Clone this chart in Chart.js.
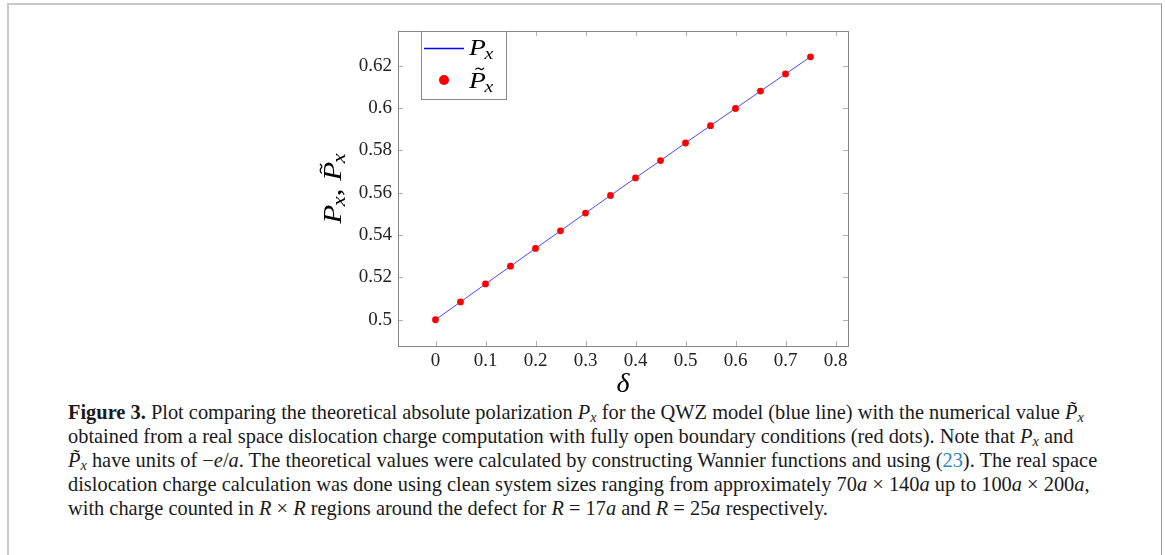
<!DOCTYPE html>
<html>
<head>
<meta charset="utf-8">
<script src="https://cdn.jsdelivr.net/npm/chart.js@4"></script>
<style>
  html, body { margin: 0; padding: 0; background: #fff; }
  body { width: 1165px; height: 555px; position: relative; overflow: hidden; }
  #frame { position: absolute; left: 7px; top: 3px; width: 1152px; height: 600px;
           border-left: 2px solid #c8c8c8; border-top: 2px solid #c8c8c8; border-right: 1px solid #9a9a9a; }
  #wrap { position: absolute; left: 0; top: 0; width: 1165px; height: 395px; }
  #cap { position: absolute; left: 68px; top: 400px; font-family: "Liberation Serif", serif; font-size: 20.4px;
         color: #1a1a1a; line-height: 24px; }
  #cap div { white-space: nowrap; height: 24px; }
  #cap i { font-style: italic; }
  #cap sub { font-size: 70%; vertical-align: -3px; line-height: 0; }
  #cap .ref { color: #2a88c4; }
</style>
</head>
<body>
<div id="frame"></div>
<div id="wrap"><canvas id="c" width="1165" height="395"></canvas></div>
<div id="cap">
  <div><b>Figure 3.</b> Plot comparing the theoretical absolute polarization <i>P<sub>x</sub></i> for the QWZ model (blue line) with the numerical value <i>P&#771;<sub>x</sub></i></div>
  <div>obtained from a real space dislocation charge computation with fully open boundary conditions (red dots). Note that <i>P<sub>x</sub></i> and</div>
  <div><i>P&#771;<sub>x</sub></i> have units of &minus;<i>e</i>/<i>a</i>. The theoretical values were calculated by constructing Wannier functions and using (<span class="ref">23</span>). The real space</div>
  <div>dislocation charge calculation was done using clean system sizes ranging from approximately 70<i>a</i> &times; 140<i>a</i> up to 100<i>a</i> &times; 200<i>a</i>,</div>
  <div>with charge counted in <i>R</i> &times; <i>R</i> regions around the defect for <i>R</i> = 17<i>a</i> and <i>R</i> = 25<i>a</i> respectively.</div>
</div>
<script>
// ---- data ----
const deltaValues = [0, 0.05, 0.1, 0.15, 0.2, 0.25, 0.3, 0.35, 0.4, 0.45, 0.5, 0.55, 0.6, 0.65, 0.7, 0.75];
const theoreticalPx = [0.5, 0.5084, 0.5169, 0.5253, 0.5337, 0.5420, 0.5504, 0.5587, 0.5670, 0.5752, 0.5835, 0.5917, 0.5998, 0.6080, 0.6161, 0.6242];
const numericalPx = [0.5, 0.5084, 0.5169, 0.5253, 0.5337, 0.5420, 0.5504, 0.5587, 0.5670, 0.5752, 0.5835, 0.5917, 0.5998, 0.6080, 0.6161, 0.6242];
const xTickValues = [0, 0.1, 0.2, 0.3, 0.4, 0.5, 0.6, 0.7, 0.8];
const xTickLabels = ["0", "0.1", "0.2", "0.3", "0.4", "0.5", "0.6", "0.7", "0.8"];
const yTickValues = [0.5, 0.52, 0.54, 0.56, 0.58, 0.6, 0.62];
const yTickLabels = ["0.5", "0.52", "0.54", "0.56", "0.58", "0.6", "0.62"];

const SERIF = '"Liberation Serif", serif';

function mathP(ctx, x, y, size, tilde, measureOnly) {
  // draws italic P with subscript x; returns width
  ctx.font = 'italic ' + size + 'px ' + SERIF;
  const wP = ctx.measureText('P').width;
  ctx.font = 'italic ' + (size * 0.72) + 'px ' + SERIF;
  const wx = ctx.measureText('x').width;
  if (!measureOnly) {
    ctx.font = 'italic ' + size + 'px ' + SERIF;
    ctx.fillText('P', x, y);
    if (tilde) {
      const tx0 = x + wP * 0.38, tx1 = x + wP * 0.88, ty = y - size * 0.8, amp = size * 0.05;
      ctx.save();
      ctx.strokeStyle = ctx.fillStyle;
      ctx.lineWidth = Math.max(1, size * 0.05);
      ctx.beginPath();
      ctx.moveTo(tx0, ty + amp * 0.6);
      ctx.bezierCurveTo(tx0 + (tx1 - tx0) * 0.25, ty - amp * 1.6, tx0 + (tx1 - tx0) * 0.5, ty - amp * 0.2, tx0 + (tx1 - tx0) * 0.55, ty);
      ctx.bezierCurveTo(tx0 + (tx1 - tx0) * 0.7, ty + amp * 1.6, tx0 + (tx1 - tx0) * 0.85, ty + amp * 0.2, tx1, ty - amp * 0.8);
      ctx.stroke();
      ctx.restore();
    }
    ctx.font = 'italic ' + (size * 0.72) + 'px ' + SERIF;
    ctx.fillText('x', x + wP * 0.92, y + size * 0.17);
  }
  return wP * 0.92 + wx;
}

const decor = {
  id: 'decor',
  afterDraw(chart) {
    const ctx = chart.ctx;
    const a = chart.chartArea;
    const xs = chart.scales.x, ys = chart.scales.y;
    ctx.save();
    // inside ticks
    ctx.strokeStyle = '#b0b0b0';
    ctx.lineWidth = 1;
    ctx.beginPath();
    xTickValues.forEach(v => {
      const px = Math.round(xs.getPixelForValue(v)) + 0.5;
      ctx.moveTo(px, a.bottom); ctx.lineTo(px, a.bottom - 5);
      ctx.moveTo(px, a.top); ctx.lineTo(px, a.top + 5);
    });
    yTickValues.forEach(v => {
      const py = Math.round(ys.getPixelForValue(v)) + 0.5;
      ctx.moveTo(a.left, py); ctx.lineTo(a.left + 5, py);
      ctx.moveTo(a.right, py); ctx.lineTo(a.right - 5, py);
    });
    ctx.stroke();
    // frame
    ctx.strokeStyle = '#858585';
    ctx.strokeRect(Math.round(a.left) + 0.5, Math.round(a.top) + 0.5, Math.round(a.right - a.left), Math.round(a.bottom - a.top));

    // legend
    const lx = 421, ly = 31, lw = 85, lh = 68;
    ctx.fillStyle = '#fff';
    ctx.fillRect(lx, ly, lw, lh);
    ctx.strokeStyle = '#8a8a8a';
    ctx.strokeRect(lx + 0.5, ly + 0.5, lw, lh);
    ctx.strokeStyle = '#0000ff';
    ctx.lineWidth = 1.3;
    ctx.beginPath(); ctx.moveTo(424, 48.5); ctx.lineTo(464, 48.5); ctx.stroke();
    ctx.fillStyle = chart.data.datasets[0].backgroundColor;
    ctx.beginPath(); ctx.arc(444, 80, 5, 0, Math.PI * 2); ctx.fill();
    ctx.fillStyle = '#000';
    ctx.textAlign = 'left'; ctx.textBaseline = 'alphabetic';
    ctx.save(); ctx.translate(469, 0); ctx.scale(1.15, 1);
    mathP(ctx, 0, 55, 24, false);
    mathP(ctx, 0, 88, 24, true);
    ctx.restore();

    // x title
    ctx.font = 'italic 28px ' + SERIF;
    ctx.textAlign = 'center';
    ctx.fillText('\u03B4', (a.left + a.right) / 2, 392);

    // y title rotated
    ctx.translate(341, (a.top + a.bottom) / 2);
    ctx.rotate(-Math.PI / 2);
    ctx.scale(1.25, 1);
    ctx.textAlign = 'left';
    const s = 25;
    const w1 = mathP(ctx, 0, 0, s, false, true);
    ctx.font = s + 'px ' + SERIF;
    const wc = ctx.measureText(', ').width;
    const w2 = mathP(ctx, 0, 0, s, true, true);
    let x0 = -(w1 + wc + w2) / 2;
    mathP(ctx, x0, 0, s, false);
    ctx.font = s + 'px ' + SERIF;
    ctx.fillText(',', x0 + w1, 0);
    mathP(ctx, x0 + w1 + wc, 0, s, true);
    ctx.restore();
  }
};

new Chart(document.getElementById('c'), {
  type: 'line',
  data: {
    datasets: [
      {
        label: 'P~x',
        data: deltaValues.map((d, i) => ({ x: d, y: numericalPx[i] })),
        showLine: false,
        pointRadius: 3.4,
        pointBackgroundColor: '#ff0000',
        backgroundColor: '#ff0000',
        pointBorderWidth: 0,
        borderColor: '#ff0000'
      },
      {
        label: 'Px',
        data: deltaValues.map((d, i) => ({ x: d, y: theoreticalPx[i] })),
        borderColor: '#4848ff',
        borderWidth: 1,
        pointRadius: 0,
        tension: 0,
        fill: false
      }
    ]
  },
  options: {
    responsive: false,
    animation: false,
    events: [],
    layout: { padding: { left: 338, right: 317, top: 31, bottom: 9 } },
    plugins: { legend: { display: false }, tooltip: { enabled: false } },
    scales: {
      x: {
        type: 'linear', min: -0.075, max: 0.825,
        afterBuildTicks: s => { s.ticks = xTickValues.map(v => ({ value: v })); },
        afterFit: s => { s.height = 40; },
        grid: { display: false, drawTicks: false },
        border: { display: false },
        ticks: {
          padding: 4, color: '#222', font: { family: SERIF, size: 19 },
          callback: (v) => { const i = xTickValues.findIndex(t => Math.abs(t - v) < 1e-9); return i >= 0 ? xTickLabels[i] : ''; }
        }
      },
      y: {
        type: 'linear', min: 0.4876, max: 0.6364,
        afterBuildTicks: s => { s.ticks = yTickValues.map(v => ({ value: v })); },
        afterFit: s => { s.width = 60; },
        grid: { display: false, drawTicks: false },
        border: { display: false },
        ticks: {
          padding: 6, color: '#222', font: { family: SERIF, size: 19 },
          callback: (v) => { const i = yTickValues.findIndex(t => Math.abs(t - v) < 1e-9); return i >= 0 ? yTickLabels[i] : ''; }
        }
      }
    }
  },
  plugins: [decor]
});
</script>
</body>
</html>
